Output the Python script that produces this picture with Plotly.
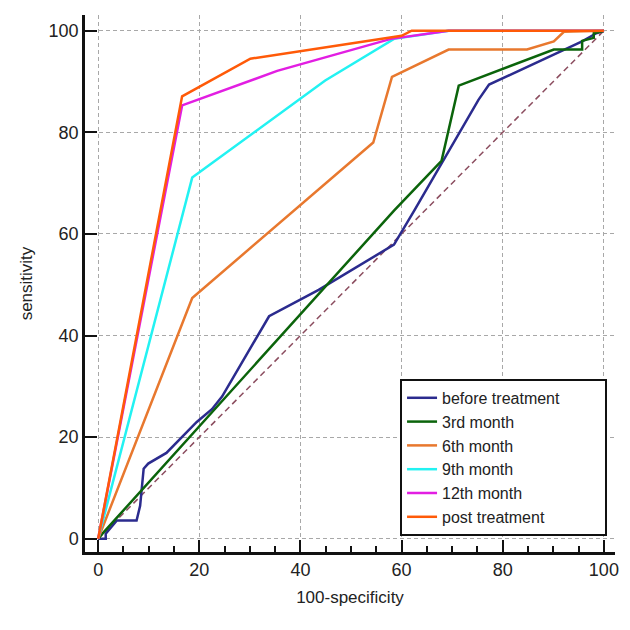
import plotly.graph_objects as go

# ROC curve data (x = 100-specificity, y = sensitivity)
before_x = [0, 1.5, 1.5, 3.7, 7.6, 8.3, 9.0, 9.9, 13.5, 19.5, 22.5, 24.5, 33.8, 43.6, 58.5, 62.5, 75.2, 77.3, 95.7, 98.5, 100]
before_y = [0, 0, 1.0, 3.6, 3.6, 6.5, 13.8, 14.8, 16.9, 23.0, 25.5, 28.0, 43.8, 49.0, 57.9, 64.6, 86.4, 89.4, 97.9, 99.5, 100]

m3_x = [0, 1.2, 58.5, 67.9, 71.3, 90.1, 95.7, 95.7, 98.0, 98.0, 100]
m3_y = [0, 1.4, 64.6, 74.4, 89.2, 96.3, 96.3, 98.0, 98.6, 99.5, 100]

m6_x = [0, 18.6, 54.4, 58.1, 69.3, 84.8, 90.1, 92.1, 100]
m6_y = [0, 47.4, 78.0, 90.9, 96.3, 96.3, 97.9, 99.8, 100]

m9_x = [0, 18.6, 44.9, 58.5, 69.3, 100]
m9_y = [0, 71.1, 90.2, 98.4, 100, 100]

m12_x = [0, 16.6, 35.4, 57.9, 69.3, 100]
m12_y = [0, 85.3, 92.1, 98.4, 100, 100]

post_x = [0, 16.6, 30.1, 60.0, 62.0, 100]
post_y = [0, 87.1, 94.5, 99.0, 100, 100]

diag = [0, 100]

names = ["before treatment", "3rd month", "6th month", "9th month", "12th month", "post treatment"]
colors = ["#2B2B8E", "#0B640B", "#E8782E", "#22F2F2", "#E21EE2", "#FF5A08"]
series = [(before_x, before_y), (m3_x, m3_y), (m6_x, m6_y), (m9_x, m9_y), (m12_x, m12_y), (post_x, post_y)]

fig = go.Figure()
fig.add_trace(go.Scatter(x=diag, y=diag, mode="lines", showlegend=False,
                         line=dict(color="#8B4C5E", width=1.5, dash="6px,4px")))
for i, ((sx, sy), n, c) in enumerate(zip(series, names, colors)):
    label = n + ("\u00a0" * 9 if i == 0 else "")  # pad legend box width
    fig.add_trace(go.Scatter(x=sx, y=sy, mode="lines", name=label,
                             line=dict(color=c, width=2.5)))

font = "Liberation Sans, Arial, sans-serif"
fig.update_layout(
    width=630, height=630,
    margin=dict(l=77, r=23, t=7, b=86, autoexpand=False),
    plot_bgcolor="white", paper_bgcolor="white",
    font=dict(family=font, size=17, color="#222222"),
    legend=dict(x=0.985, y=0.03, xanchor="right", yanchor="bottom",
                bordercolor="#111111", borderwidth=2, bgcolor="white",
                font=dict(size=16, color="#222222"), tracegroupgap=0),
    xaxis=dict(range=[-2.6, 102.2], tickvals=[0, 20, 40, 60, 80, 100],
               automargin=False,
               showline=True, linecolor="#111111", linewidth=2.5,
               ticks="inside", ticklen=12, tickwidth=2, tickcolor="#111111",
               showgrid=True, gridcolor="#A8A8A8", gridwidth=1.3, griddash="4px,3px",
               zeroline=False, tickfont=dict(size=18),
               minor=dict(dtick=5, ticks="inside", ticklen=6, tickwidth=1.5,
                          tickcolor="#111111", showgrid=False),
               title=dict(text="100-specificity", font=dict(size=17), standoff=12)),
    yaxis=dict(range=[-2.6, 103.1], tickvals=[0, 20, 40, 60, 80, 100],
               automargin=False,
               showline=True, linecolor="#111111", linewidth=2.5,
               ticks="inside", ticklen=12, tickwidth=2, tickcolor="#111111",
               showgrid=True, gridcolor="#A8A8A8", gridwidth=1.3, griddash="4px,3px",
               zeroline=False, tickfont=dict(size=18),
               title=dict(text="sensitivity", font=dict(size=17), standoff=12)),
)

fig.write_html("out.html")
